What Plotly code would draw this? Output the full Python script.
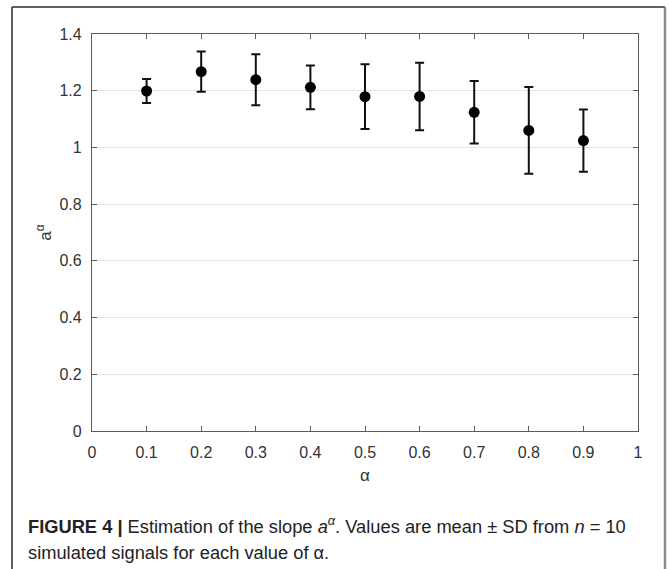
import plotly.graph_objects as go

alpha = [0.1, 0.2, 0.3, 0.4, 0.5, 0.6, 0.7, 0.8, 0.9]
mean_slope = [1.199, 1.267, 1.239, 1.212, 1.179, 1.180, 1.124, 1.060, 1.024]
sd_slope = [0.042, 0.071, 0.090, 0.077, 0.114, 0.119, 0.110, 0.153, 0.110]

x_ticks = [0, 0.1, 0.2, 0.3, 0.4, 0.5, 0.6, 0.7, 0.8, 0.9, 1]
x_tick_text = ["0", "0.1", "0.2", "0.3", "0.4", "0.5", "0.6", "0.7", "0.8", "0.9", "1"]
y_ticks = [0, 0.2, 0.4, 0.6, 0.8, 1, 1.2, 1.4]
y_tick_text = ["0", "0.2", "0.4", "0.6", "0.8", "1", "1.2", "1.4"]

W, H = 670, 569
ml, mr, mt, mb = 92, 32, 34, 138
pw, ph = W - ml - mr, H - mt - mb

def px(x):
    return (x - ml) / pw

def py(y):
    return (H - mb - y) / ph

fig = go.Figure()
fig.add_trace(go.Scatter(
    x=alpha, y=mean_slope, mode="markers",
    marker=dict(color="black", size=11, line=dict(width=0)),
    error_y=dict(type="data", array=sd_slope, visible=True,
                 color="#111111", thickness=2, width=4.5),
    showlegend=False, hoverinfo="x+y",
))

font_main = "Liberation Sans, Arial, sans-serif"
axis_common = dict(
    showline=True, linecolor="#5a5a5a", linewidth=1.3, mirror="ticks",
    ticks="inside", ticklen=5, tickcolor="#5a5a5a", tickwidth=1,
    tickfont=dict(family=font_main, size=16, color="#333333"),
    zeroline=False,
)

fig.update_xaxes(range=[0, 1], tickvals=x_ticks, ticktext=x_tick_text,
                 showgrid=False, ticklabelstandoff=7,
                 title=dict(text="α", standoff=8,
                 font=dict(family=font_main, size=17, color="#333333")),
                 **axis_common)
fig.update_yaxes(range=[0, 1.4], tickvals=y_ticks, ticktext=y_tick_text,
                 showgrid=True, gridcolor="#e3e3e3", gridwidth=1,
                 ticklabelstandoff=6,
                 title=dict(text="a<sup>α</sup>", standoff=3,
                 font=dict(family=font_main, size=17, color="#333333")),
                 **axis_common)

shapes = [
    dict(type="line", xref="paper", yref="paper", x0=px(12), x1=px(665), y0=py(7), y1=py(7),
         line=dict(color="#2a2a2a", width=1.5)),
    dict(type="line", xref="paper", yref="paper", x0=px(12), x1=px(12), y0=py(7), y1=py(580),
         line=dict(color="#2a2a2a", width=1.5)),
    dict(type="line", xref="paper", yref="paper", x0=px(665), x1=px(665), y0=py(7), y1=py(580),
         line=dict(color="#8a8a8a", width=2.5)),
]

cap_font = dict(family=font_main, size=18.3, color="#222222")
annotations = [
    dict(xref="paper", yref="paper", x=px(26), y=py(525), xanchor="left", yanchor="middle",
         text="<b>FIGURE 4 |</b> Estimation of the slope <i>a</i><sup><i>α</i></sup>. Values are mean ± SD from <i>n</i> = 10",
         showarrow=False, font=cap_font, align="left"),
    dict(xref="paper", yref="paper", x=px(26), y=py(552), xanchor="left", yanchor="middle",
         text="simulated signals for each value of α.",
         showarrow=False, font=cap_font, align="left"),
]

fig.update_layout(
    width=W, height=H, margin=dict(l=ml, r=mr, t=mt, b=mb),
    paper_bgcolor="white", plot_bgcolor="white",
    shapes=shapes, annotations=annotations,
    font=dict(family=font_main),
)

fig.write_html("out.html")
